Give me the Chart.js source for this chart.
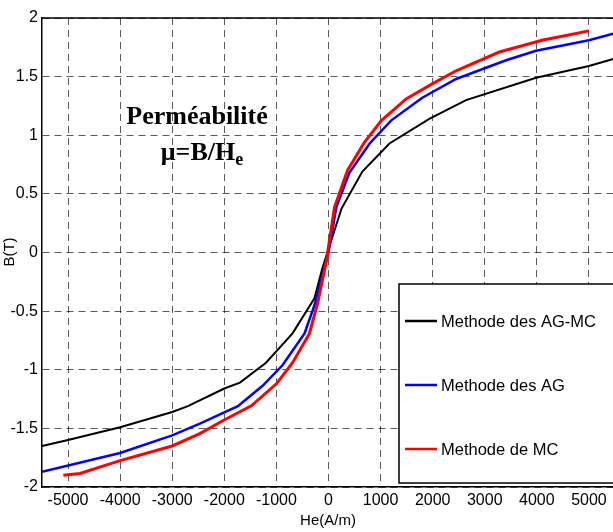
<!DOCTYPE html>
<html>
<head>
<meta charset="utf-8">
<script src="https://cdn.jsdelivr.net/npm/chart.js@4/dist/chart.umd.min.js"></script>
<style>
  html, body { margin: 0; padding: 0; background: #fff; overflow: hidden; }
  #chart { display: block; }
</style>
</head>
<body>
<canvas id="chart" width="620" height="532"></canvas>
<script>
// Data
const labels = ["Methode des AG-MC", "Methode des AG", "Methode de MC"];
const colors = ["#000000", "#0000ff", "#ff0000"];

const hAGMC = [-5500, -5000, -4000, -3000, -2700, -2000, -1700, -1200, -690, -270, -115, 250, 650, 1170, 1935, 2640, 3985, 5000, 5500];
const bAGMC = [-1.65, -1.60, -1.49, -1.36, -1.31, -1.16, -1.11, -0.94, -0.69, -0.39, -0.13, 0.375, 0.69, 0.93, 1.14, 1.30, 1.49, 1.59, 1.655];

const hAG = [-5500, -4000, -3000, -2470, -1740, -1260, -880, -460, -270, 0, 150, 400, 790, 1200, 1800, 2450, 3410, 3985, 5000, 5500];
const bAG = [-1.87, -1.71, -1.56, -1.46, -1.31, -1.135, -0.96, -0.69, -0.45, 0.0, 0.385, 0.68, 0.93, 1.125, 1.32, 1.48, 1.64, 1.72, 1.81, 1.87];

const hMC = [-5090, -4770, -4000, -3000, -2470, -2030, -1475, -1000, -690, -365, -210, -40, 115, 365, 690, 1015, 1490, 2000, 2450, 3280, 4100, 4560, 5000];
const bMC = [-1.90, -1.885, -1.775, -1.65, -1.545, -1.435, -1.305, -1.12, -0.94, -0.69, -0.435, -0.07, 0.385, 0.70, 0.94, 1.125, 1.31, 1.44, 1.55, 1.71, 1.81, 1.85, 1.89];

const xTicks = [-5000, -4000, -3000, -2000, -1000, 0, 1000, 2000, 3000, 4000, 5000];
const yTicks = [-2, -1.5, -1, -0.5, 0, 0.5, 1, 1.5, 2];

const toPoints = (hs, bs) => hs.map((h, i) => ({ x: h, y: bs[i] }));

const tickFont = { family: "'Liberation Sans', Arial, sans-serif", size: 16 };
const serif = "'Liberation Serif', 'Times New Roman', serif";

// Titles, annotation, legend box and top border
const extras = {
    id: 'extras',
    afterDraw(chart) {
        const ctx = chart.ctx;
        const area = chart.chartArea;
        ctx.save();

        // top border
        ctx.strokeStyle = '#000';
        ctx.lineWidth = 1.5;
        ctx.beginPath();
        ctx.moveTo(area.left, area.top);
        ctx.lineTo(area.right, area.top);
        ctx.stroke();

        // axis titles
        ctx.fillStyle = '#000';
        ctx.font = "15px 'Liberation Sans', Arial, sans-serif";
        ctx.textAlign = 'center';
        ctx.textBaseline = 'middle';
        ctx.fillText('He(A/m)', 328, 521);
        ctx.save();
        ctx.translate(10, 252);
        ctx.rotate(-Math.PI / 2);
        ctx.fillText('B(T)', 0, 0);
        ctx.restore();

        // annotation
        ctx.font = "bold 26px " + serif;
        ctx.textBaseline = 'alphabetic';
        ctx.textAlign = 'center';
        ctx.fillText('Perméabilité', 197, 124);
        const main = 'μ=B/H';
        ctx.textAlign = 'left';
        const wMain = ctx.measureText(main).width;
        ctx.font = "bold 18px " + serif;
        const wSub = ctx.measureText('e').width;
        const x0 = 202 - (wMain + wSub) / 2;
        ctx.font = "bold 26px " + serif;
        ctx.fillText(main, x0, 160);
        ctx.font = "bold 18px " + serif;
        ctx.fillText('e', x0 + wMain, 165);

        // legend box
        ctx.fillStyle = '#fff';
        ctx.fillRect(399, 284, 240, 199);
        ctx.strokeStyle = '#000';
        ctx.lineWidth = 1.5;
        ctx.strokeRect(399, 284, 240, 199);
        const rows = [321, 385, 449];
        ctx.font = "16.5px 'Liberation Sans', Arial, sans-serif";
        ctx.textBaseline = 'middle';
        chart.data.datasets.forEach((ds, i) => {
            const y = rows[i];
            ctx.strokeStyle = ds.borderColor;
            ctx.lineWidth = 2.5;
            ctx.beginPath();
            ctx.moveTo(405, y);
            ctx.lineTo(437, y);
            ctx.stroke();
            ctx.fillStyle = '#000';
            ctx.fillText(ds.label, 441, y + 1);
        });
        ctx.restore();
    }
};

new Chart(document.getElementById('chart'), {
    type: 'scatter',
    data: {
        datasets: [
            { label: labels[0], data: toPoints(hAGMC, bAGMC), borderColor: colors[0], borderWidth: 2, order: 2 },
            { label: labels[1], data: toPoints(hAG, bAG), borderColor: colors[1], borderWidth: 2.5, order: 1 },
            { label: labels[2], data: toPoints(hMC, bMC), borderColor: colors[2], borderWidth: 3, order: 0 }
        ].map(ds => Object.assign(ds, { showLine: true, pointRadius: 0, tension: 0, fill: false }))
    },
    options: {
        responsive: false,
        animation: false,
        layout: { padding: { top: 18, right: 5, left: 0, bottom: 0 } },
        plugins: { legend: { display: false }, tooltip: { enabled: false } },
        scales: {
            x: {
                type: 'linear',
                min: -5500,
                max: 5500,
                afterBuildTicks: s => { s.ticks = xTicks.map(v => ({ value: v })); },
                afterFit: s => { s.height = 45; },
                ticks: { font: tickFont, color: '#000', padding: 4, maxRotation: 0, callback: v => String(v) },
                grid: { color: 'rgba(0,0,0,0.65)', lineWidth: 1, drawTicks: false },
                border: { color: '#000', width: 1.5, dash: [7, 5] }
            },
            y: {
                type: 'linear',
                min: -2,
                max: 2,
                afterBuildTicks: s => { s.ticks = yTicks.map(v => ({ value: v })); },
                afterFit: s => { s.width = 42; },
                ticks: { font: tickFont, color: '#000', padding: 4, callback: v => String(v) },
                grid: { color: 'rgba(0,0,0,0.65)', lineWidth: 1, drawTicks: false },
                border: { color: '#000', width: 1.5, dash: [7, 5] }
            }
        }
    },
    plugins: [extras]
});
</script>
</body>
</html>
